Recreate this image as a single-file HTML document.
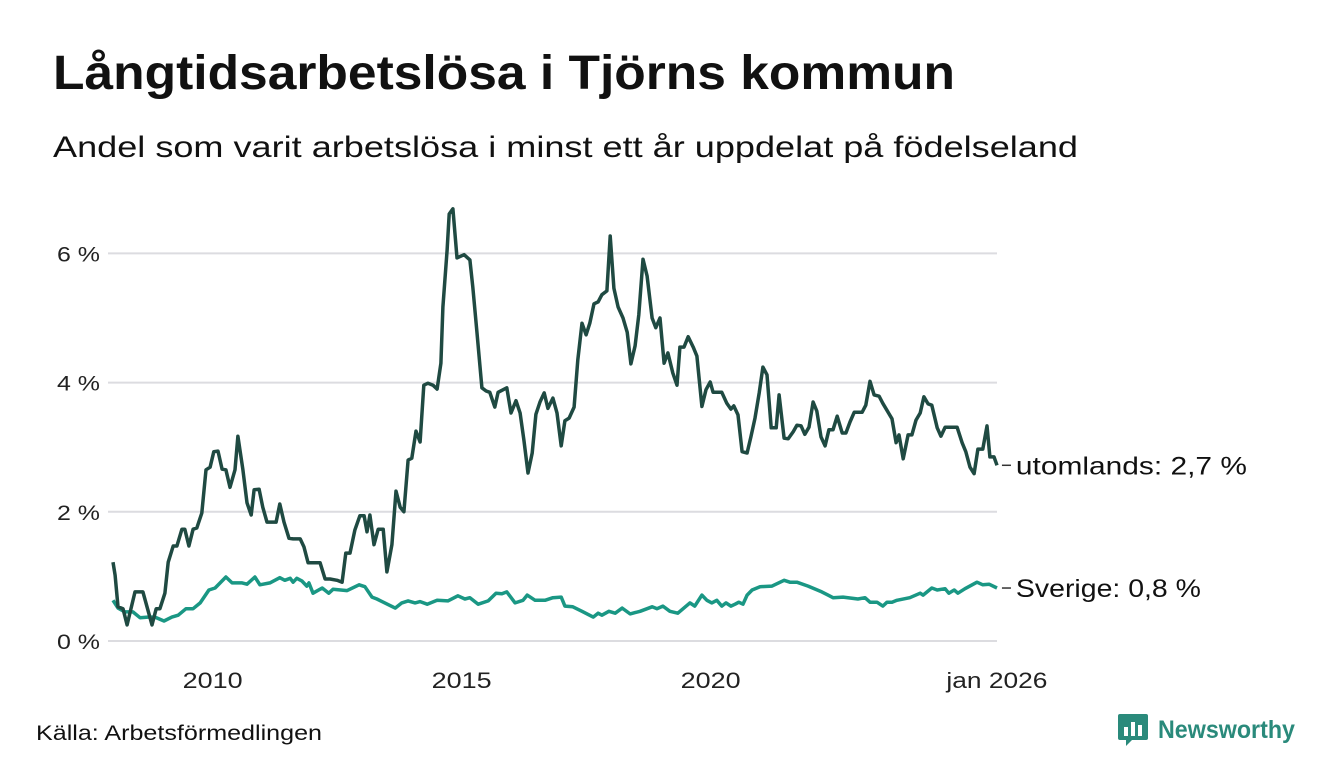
<!DOCTYPE html>
<html><head><meta charset="utf-8">
<style>
body{margin:0;width:1340px;height:780px;background:#fff;font-family:"Liberation Sans",sans-serif;overflow:hidden;position:relative}
svg#chart{position:absolute;left:0;top:0}
#logo{position:absolute;left:1118px;top:714px}
</style></head><body>
<svg id="chart" width="1340" height="780">
<text x="53" y="89" font-size="48" font-weight="bold" fill="#111" textLength="902" lengthAdjust="spacingAndGlyphs">Långtidsarbetslösa i Tjörns kommun</text>
<text x="53" y="157" font-size="30" fill="#111" textLength="1025" lengthAdjust="spacingAndGlyphs">Andel som varit arbetslösa i minst ett år uppdelat på födelseland</text>
<text x="36" y="740" font-size="21" fill="#111" textLength="286" lengthAdjust="spacingAndGlyphs">Källa: Arbetsförmedlingen</text>
<text x="1158" y="738" font-size="25" font-weight="bold" fill="#2a8a7b" textLength="137" lengthAdjust="spacingAndGlyphs">Newsworthy</text>
</svg>
<svg id="logo" width="30" height="32"><rect x="0" y="0" width="30" height="26" rx="2" fill="#2a8a7b"/><polygon points="8,26 14,26 8,32" fill="#2a8a7b"/><rect x="6" y="13" width="4" height="9" fill="#fff"/><rect x="13" y="8" width="4" height="14" fill="#fff"/><rect x="20" y="11" width="4" height="11" fill="#fff"/></svg>
<script>
const yTicks=[0,2,4,6];
const xTickMonths=[24,84,144,213];
const xTickLabels=["2010","2015","2020","jan 2026"];
const utlMonths=[0,0.5,1.2,2.4,3.4,5.3,7.2,9.4,10.4,11.3,12.5,13.3,14.5,15.4,16.6,17.3,18.3,19.3,20.2,21.4,22.4,23.4,24.3,25.3,26.3,27.2,28.2,29.4,30.1,31.3,32.3,33.3,34,35.2,36.1,37.1,38.1,39.3,40.2,41.2,42.4,43.4,45.1,46,47,48.2,49.9,51.1,52.3,54,55.2,56.1,57.1,58.3,59.5,60.5,61.2,61.9,62.9,63.9,65.1,66,67.2,68.2,69.2,70.1,71.1,72,73,74,74.9,75.9,77.1,78.1,79,79.5,80.5,81,81.9,82.9,84.6,86,86.7,87.7,88.9,89.9,90.8,92,92.8,94.9,95.9,97.1,98.1,99,100,101,101.9,102.9,103.9,104.8,106,107,108,108.9,109.9,111.1,112,113,114,114.9,115.9,116.9,117.8,119,119.8,120.7,121.7,122.9,123.9,124.8,125.8,126.7,127.7,128.7,129.9,130.8,131.8,132.8,133.7,134.9,135.9,136.6,137.6,138.6,139.8,140.7,141.9,142.9,143.9,144.6,146.7,147.9,148.9,149.6,150.6,151.6,152.8,153.7,154.7,155.7,156.6,157.6,158.6,159.8,160.5,161.7,162.7,163.9,164.8,165.8,166.7,167.7,168.7,169.6,170.6,171.6,172.5,173.5,174.5,175.7,176.6,177.6,178.6,180.5,181.4,182.4,183.4,184.6,185.5,187.7,188.7,189.4,190.4,191.6,192.5,193.5,194.5,195.4,196.4,197.3,198.6,199.5,200.5,203.4,204.6,205.5,206.5,207.5,208.4,209.6,210.6,211.3,212.3,213];
const utlValues=[1.22,1.02,0.53,0.5,0.25,0.76,0.76,0.25,0.5,0.5,0.74,1.22,1.47,1.47,1.73,1.73,1.47,1.73,1.75,1.98,2.65,2.69,2.93,2.94,2.66,2.65,2.38,2.65,3.17,2.65,2.14,1.95,2.34,2.35,2.07,1.84,1.84,1.84,2.12,1.84,1.59,1.58,1.58,1.46,1.21,1.21,1.21,0.96,0.96,0.94,0.91,1.36,1.36,1.72,1.94,1.94,1.69,1.95,1.49,1.73,1.73,1.07,1.49,2.32,2.07,2.0,2.8,2.83,3.25,3.08,3.96,3.99,3.96,3.9,4.3,5.17,6.05,6.61,6.69,5.93,5.98,5.9,5.48,4.77,3.92,3.87,3.85,3.62,3.85,3.92,3.53,3.72,3.53,3.11,2.6,2.91,3.51,3.7,3.84,3.6,3.76,3.53,3.02,3.41,3.45,3.62,4.35,4.92,4.74,4.92,5.22,5.25,5.36,5.42,6.27,5.46,5.17,5.0,4.78,4.29,4.57,5.05,5.91,5.65,5.0,4.85,5.0,4.3,4.46,4.15,3.96,4.55,4.55,4.71,4.55,4.41,3.63,3.89,4.01,3.85,3.85,3.68,3.59,3.64,3.5,2.93,2.91,3.16,3.45,3.84,4.24,4.12,3.3,3.3,3.81,3.14,3.13,3.24,3.34,3.33,3.2,3.31,3.7,3.56,3.16,3.02,3.27,3.27,3.48,3.22,3.22,3.39,3.54,3.54,3.65,4.02,3.81,3.79,3.68,3.44,3.07,3.19,2.82,3.19,3.19,3.42,3.53,3.78,3.67,3.65,3.3,3.17,3.31,3.31,3.07,2.93,2.69,2.59,2.97,2.97,3.33,2.85,2.85,2.72];
const sveMonths=[0,1.2,2.9,4.8,6.5,8.4,10.1,12.3,14.2,15.7,17.6,19.3,21,23.1,24.6,27.2,28.7,31.1,32.3,34.2,35.4,37.8,40.2,41.4,42.7,43.4,44.3,45.5,46.7,47.2,48.2,50.4,52,53,56.4,59.3,60.7,62.4,63.6,65.5,68,69.6,71.1,72.8,74,75.7,78.1,80.7,83.1,84.8,86,88,90.4,92.3,93.7,94.9,96.9,98.8,99.8,101.7,104.1,106,108,108.9,110.8,113,115.7,116.9,117.8,119.5,121,122.7,124.6,127,129.9,131.1,132.5,134.2,136.1,139,140.2,141.9,143.1,144.3,145.5,146.7,147.7,148.9,149.9,150.8,151.8,152.8,154,155.9,158.8,161.7,163.1,164.8,167.5,170.8,172.3,173.5,175.9,179.5,181.2,182.4,184.1,185.5,186.5,187.7,188.9,192,194.5,195.2,197.3,198.6,200.5,201.4,202.7,203.6,205.3,208.2,209.6,211.1,213];
const sveValues=[0.63,0.51,0.45,0.45,0.36,0.37,0.37,0.31,0.37,0.4,0.5,0.5,0.59,0.79,0.82,0.99,0.9,0.9,0.88,0.99,0.87,0.9,0.98,0.94,0.97,0.91,0.97,0.93,0.85,0.9,0.74,0.82,0.74,0.8,0.78,0.87,0.84,0.68,0.65,0.59,0.51,0.59,0.62,0.59,0.61,0.57,0.63,0.62,0.7,0.65,0.67,0.57,0.62,0.74,0.73,0.76,0.59,0.63,0.71,0.63,0.63,0.67,0.68,0.54,0.53,0.46,0.37,0.43,0.4,0.46,0.43,0.51,0.42,0.46,0.53,0.5,0.54,0.46,0.43,0.59,0.54,0.71,0.63,0.59,0.63,0.54,0.59,0.54,0.57,0.6,0.57,0.71,0.79,0.84,0.85,0.94,0.91,0.91,0.85,0.76,0.71,0.67,0.68,0.65,0.67,0.6,0.6,0.54,0.6,0.6,0.63,0.67,0.74,0.71,0.82,0.79,0.81,0.74,0.79,0.74,0.81,0.91,0.87,0.88,0.82];
const seriesLabels=["utomlands: 2,7 %","Sverige: 0,8 %"];

const NS="http://www.w3.org/2000/svg";
const svg=document.getElementById('chart');
const X=m=>113+m*4.15;
const Y=v=>641-v*64.6;
function mk(t,a){const e=document.createElementNS(NS,t);for(const k in a)e.setAttribute(k,a[k]);svg.appendChild(e);return e;}
function fit(t,w){t.setAttribute('textLength',w);t.setAttribute('lengthAdjust','spacingAndGlyphs');}
yTicks.forEach(v=>{
  const g=mk('line',{x1:108,x2:997,y1:Y(v),y2:Y(v),stroke:'#dcdce0','stroke-width':2});
  
  
  const t=mk('text',{x:57,y:Y(v)+8,'font-size':21,fill:'#222'});
  t.textContent=v+' %';
  fit(t,43);
  
  
});
xTickMonths.forEach((m,i)=>{
  const label=xTickLabels[i];
  const w=label.length>4?101:60;
  const t=mk('text',{x:X(m)-w/2,y:688,'font-size':22,fill:'#222'});
  t.textContent=label;
  fit(t,w);
  
  
});
function line(ms,vs,col,name){
  const d=ms.map((m,i)=>(i?'L':'M')+X(m).toFixed(1)+','+Y(vs[i]).toFixed(1)).join('');
  const p=mk('path',{d:d,fill:'none',stroke:col,'stroke-width':3.5,'stroke-linejoin':'round'});
  
  
}
line(sveMonths,sveValues,'#1a9784','line-sverige');
line(utlMonths,utlValues,'#1f4a42','line-utomlands');
[[utlMonths,utlValues,0,'label-utomlands',231],[sveMonths,sveValues,1,'label-sverige',185]].forEach(([ms,vs,i,n,w])=>{
  const lx=X(ms[ms.length-1]),ly=Y(vs[vs.length-1]);
  const l=mk('line',{x1:lx+5,x2:lx+14,y1:ly,y2:ly,stroke:'#333','stroke-width':1.5});
  
  
  const t=mk('text',{x:lx+19,y:ly+9,'font-size':25,fill:'#111'});
  t.textContent=seriesLabels[i];
  fit(t,w);
  
  
});
</script>
</body></html>
